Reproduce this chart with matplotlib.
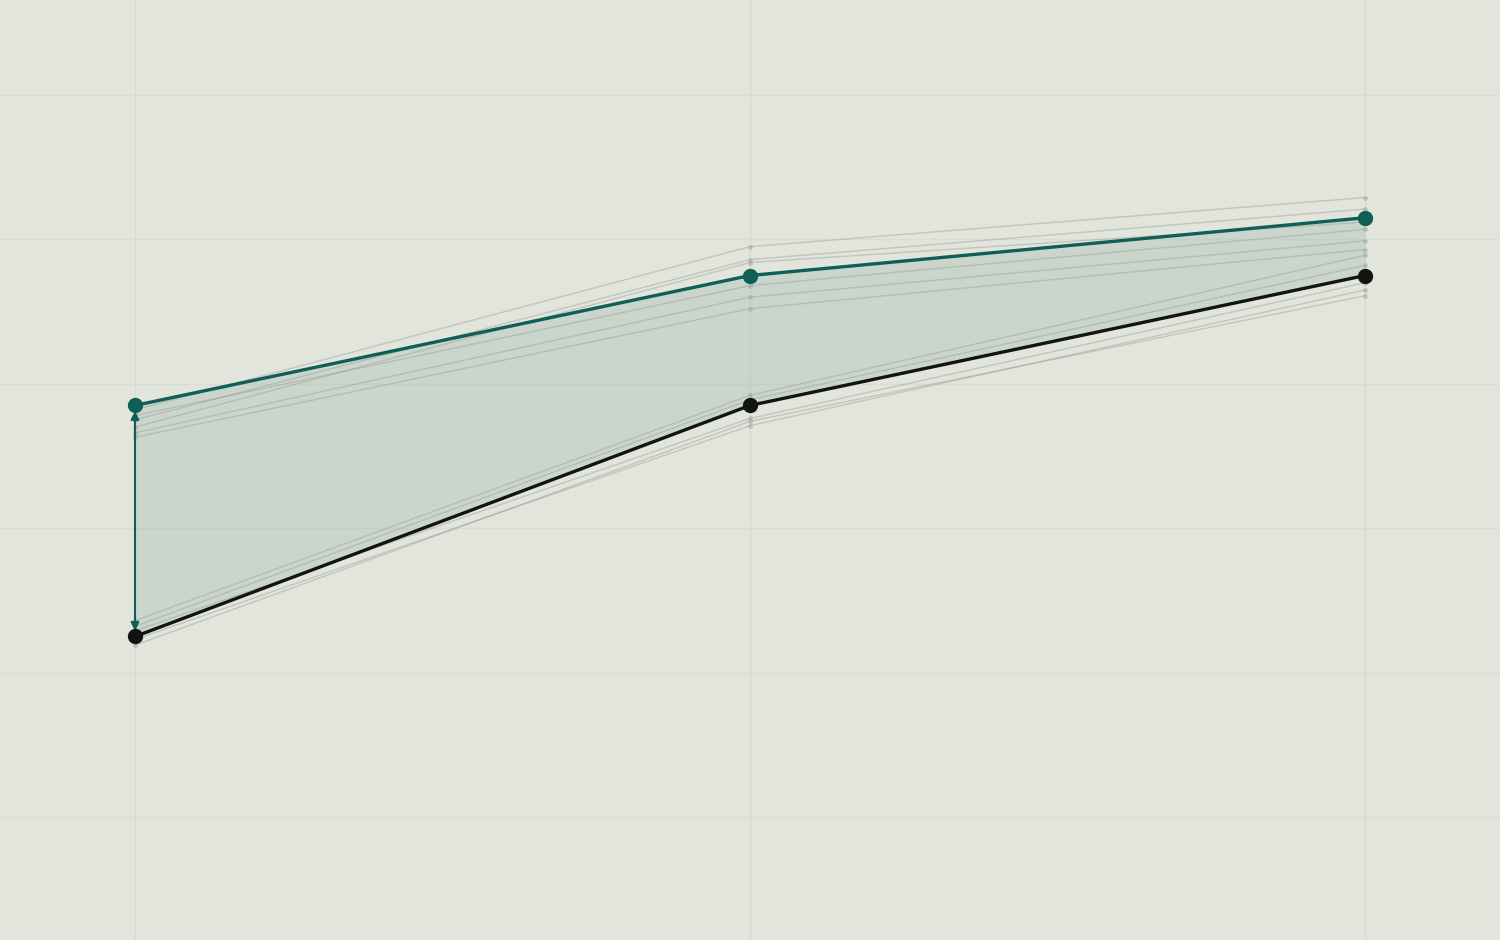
import matplotlib.pyplot as plt
import numpy as np

# three stages on the x axis
stages = [0, 1, 2]

# highlighted pair
upper_main = [28.5, 37.5, 41.5]
lower_main = [12.5, 28.5, 37.5]

# background series (upper group and lower group)
upper_others = [
    [28.2, 39.5, 42.9],
    [27.5, 38.6, 42.1],
    [27.0, 38.4, 41.2],
    [26.6, 36.0, 39.9],
    [26.3, 35.2, 39.3],
    [27.8, 36.8, 40.7],
]
lower_others = [
    [13.6, 29.2, 38.9],
    [13.2, 28.9, 38.2],
    [12.9, 27.6, 37.0],
    [12.3, 27.1, 36.5],
    [11.9, 27.4, 36.1],
]

bg = '#e2e5dc'
teal = '#0f5f57'
dark = '#111411'
grey = '#9a9e96'

fig = plt.figure(figsize=(15, 9.4), dpi=100, facecolor=bg)
ax = fig.add_axes([0, 0, 1, 1])
ax.set_facecolor(bg)

# grid
for x in stages:
    ax.axvline(x, color='#d7dad1', lw=1, zorder=0)
for y in [0, 10, 20, 30, 40, 50]:
    ax.axhline(y, color='#d9dcd3', lw=1, zorder=0)

# grey context lines
for s in upper_others + lower_others:
    ax.plot(stages, s, color=grey, lw=1, alpha=0.45, marker='o', ms=3.5,
            mec='none', zorder=2)

# band between highlighted lines
ax.fill_between(stages, lower_main, upper_main, color='#78a595', alpha=0.22,
                lw=0, zorder=1)

# highlighted lines
ax.plot(stages, upper_main, color=teal, lw=2.4, marker='o', ms=10, zorder=4)
ax.plot(stages, lower_main, color=dark, lw=2.4, marker='o', ms=10, zorder=4)

# gap arrow on the first stage
ax.annotate('', xy=(stages[0], upper_main[0]), xytext=(stages[0], lower_main[0]),
            arrowprops=dict(arrowstyle='<|-|>', color=teal, lw=1.5,
                            mutation_scale=12, shrinkA=4, shrinkB=4),
            zorder=3)

ax.set_xlim(-0.2195, 2.2195)
ax.set_ylim(-8.52, 56.58)
ax.set_xticks([])
ax.set_yticks([])
for sp in ax.spines.values():
    sp.set_visible(False)

fig.savefig('out.png', dpi=100, facecolor=bg)
